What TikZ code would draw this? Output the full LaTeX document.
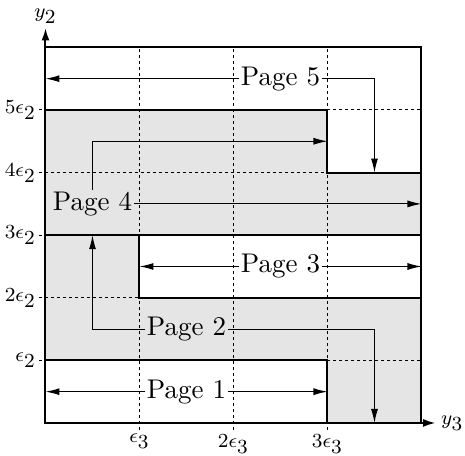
\documentclass[tikz,border=0pt]{standalone}
\usetikzlibrary{arrows.meta}
\definecolor{shade}{RGB}{229,229,229}
% full-size subscripts for the axis annotations
\newcommand{\bigsub}[1]{_{\textstyle #1}}
\begin{document}
\begin{tikzpicture}[x=37.6pt,y=25.04pt,
  region/.style={fill=shade,draw=none},
  gridline/.style={line width=0.4pt,dash pattern=on 1.2pt off 1.2pt},
  border/.style={line width=0.8pt},
  axis/.style={line width=0.8pt,-{Latex[length=5pt,width=3.2pt]}},
  flow/.style={line width=0.45pt,-{Latex[length=5.6pt,width=2.8pt]}},
  page/.style={inner sep=0.4pt,font=\fontsize{10.8}{12}\selectfont},
  tick/.style={font=\fontsize{8.5}{10}\selectfont,inner sep=1pt}]
\useasboundingbox (-0.484,-0.527) rectangle (4.463,6.757);

% shaded page areas
\fill[region] (3,0) -- (4,0) -- (4,2) -- (1,2) -- (1,3) -- (0,3) -- (0,1) -- (3,1) -- cycle;
\fill[region] (0,3) -- (4,3) -- (4,4) -- (3,4) -- (3,5) -- (0,5) -- cycle;

% grid
\foreach \i in {1,2,3} \draw[gridline] (\i,-0.11) -- (\i,6);
\foreach \j in {1,...,5} \draw[gridline] (-0.07,\j) -- (4,\j);

% page boundaries
\draw[border] (0,0) rectangle (4,6);
\draw[border] (0,1) -- (3,1) -- (3,0);
\draw[border] (4,2) -- (1,2) -- (1,3);
\draw[border] (0,3) -- (4,3);
\draw[border] (0,5) -- (3,5) -- (3,4) -- (4,4);

% axes
\coordinate (O) at (0,0);
\coordinate (xend) at (4.15,0);
\coordinate (yend) at (0,6.31);
\draw[axis] (O) -- (xend);
\draw[axis] (O) -- (yend);
\node[tick,anchor=west,inner sep=2pt] (ylab3) at (xend) {$y\bigsub{3}$};
\node[tick,anchor=south,inner sep=1.5pt] (ylab2) at (yend) {$y\bigsub{2}$};

% tick labels
\node[tick,anchor=north] (t1) at (1,-0.13) {$\epsilon\bigsub{3}$};
\node[tick,anchor=north] (t2) at (2,-0.13) {$2\epsilon\bigsub{3}$};
\node[tick,anchor=north] (t3) at (3,-0.13) {$3\epsilon\bigsub{3}$};
\node[tick,anchor=east] (s1) at (-0.07,1) {$\epsilon\bigsub{2}$};
\node[tick,anchor=east] (s2) at (-0.07,2) {$2\epsilon\bigsub{2}$};
\node[tick,anchor=east] (s3) at (-0.07,3) {$3\epsilon\bigsub{2}$};
\node[tick,anchor=east] (s4) at (-0.07,4) {$4\epsilon\bigsub{2}$};
\node[tick,anchor=east] (s5) at (-0.07,5) {$5\epsilon\bigsub{2}$};

% page labels
\node[page] (p1) at (1.5,0.5) {Page 1};
\node[page] (p2) at (1.5,1.5) {Page 2};
\node[page] (p3) at (2.5,2.5) {Page 3};
\node[page] (p4) at (0.5,3.5) {Page 4};
\node[page] (p5) at (2.5,5.5) {Page 5};

% arrow end points
\coordinate (p1l) at (0,0.5);
\coordinate (p1r) at (3,0.5);
\coordinate (p2d) at (3.5,0);
\coordinate (p2u) at (0.5,3);
\coordinate (p3l) at (1,2.5);
\coordinate (p3r) at (4,2.5);
\coordinate (p4r) at (4,3.5);
\coordinate (p4t) at (3,4.5);
\coordinate (p5l) at (0,5.5);
\coordinate (p5d) at (3.5,4);

% page extents
\draw[flow] (p1) -- (p1l);
\draw[flow] (p1) -- (p1r);
\draw[flow] (p2.east) -| (p2d);
\draw[flow] (p2.west) -| (p2u);
\draw[flow] (p3) -- (p3l);
\draw[flow] (p3) -- (p3r);
\draw[flow] (p4.east) -- (p4r);
\draw[flow] (p4.north) |- (p4t);
\draw[flow] (p5) -- (p5l);
\draw[flow] (p5.east) -| (p5d);
\end{tikzpicture}
\end{document}
